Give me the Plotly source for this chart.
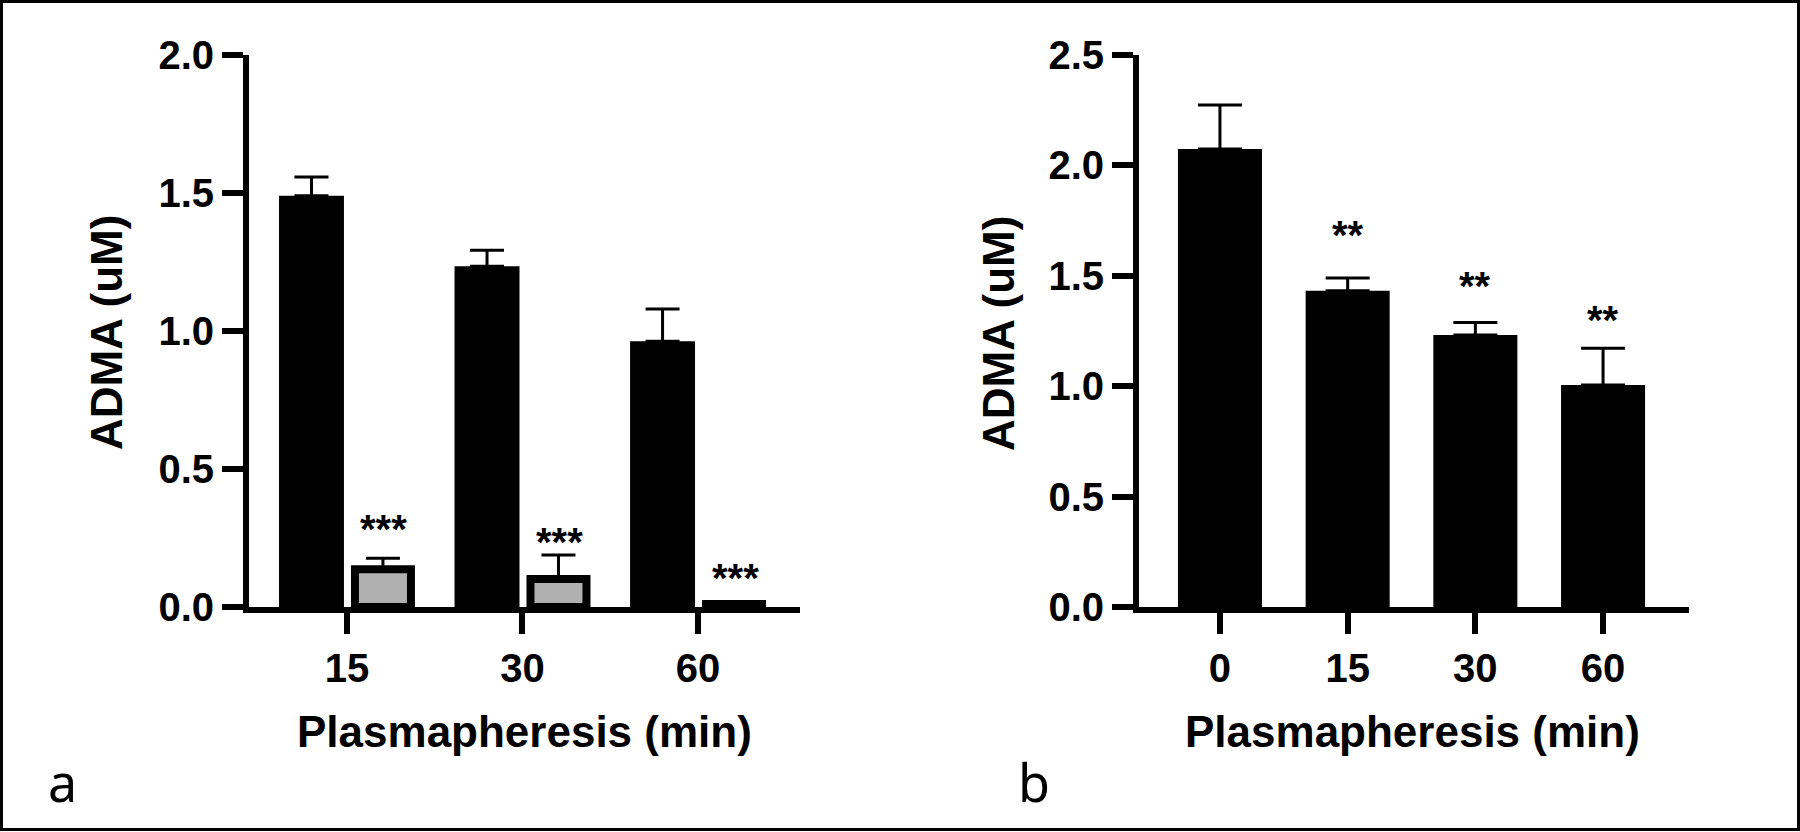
import plotly.graph_objects as go

W, H = 1800, 832

# ---------------- data ----------------
cats_a = ["15", "30", "60"]
control_a = [1.49, 1.235, 0.963]
control_a_err = [0.068, 0.058, 0.117]
treated_a = [0.137, 0.101, 0.011]
treated_a_err = [0.040, 0.087, 0.0]
sig_a = ["***", "***", "***"]
sig_a_y = [0.30, 0.255, 0.125]

cats_b = ["0", "15", "30", "60"]
vals_b = [2.074, 1.432, 1.232, 1.006]
err_b = [0.200, 0.058, 0.057, 0.166]
sig_b = ["", "**", "**", "**"]
sig_b_y = [None, 1.706, 1.476, 1.323]

yticks_a = [0.0, 0.5, 1.0, 1.5, 2.0]
yticks_b = [0.0, 0.5, 1.0, 1.5, 2.0, 2.5]

FONT = "Liberation Sans, Arial, sans-serif"


def px_x(p):
    return p / W


def px_y(p):
    return 1 - p / H


fig = go.Figure()

fig.add_trace(go.Bar(
    x=cats_a, y=control_a, xaxis="x", yaxis="y",
    marker=dict(color="black", line=dict(width=0)),
    offset=-0.387, width=0.370,
    error_y=dict(type="data", array=control_a_err, symmetric=False,
                 arrayminus=[0] * len(cats_a), color="black", thickness=3, width=17),
    showlegend=False,
))
fig.add_trace(go.Bar(
    x=cats_a, y=treated_a, xaxis="x", yaxis="y",
    marker=dict(color="#b0b0b0", line=dict(width=8, color="black")),
    offset=0.0456, width=0.319,
    error_y=dict(type="data", array=treated_a_err, symmetric=False,
                 arrayminus=[0] * len(cats_a), color="black", thickness=3, width=17),
    showlegend=False,
))
fig.add_trace(go.Bar(
    x=cats_b, y=vals_b, xaxis="x2", yaxis="y2",
    marker=dict(color="black", line=dict(width=0)),
    width=0.658,
    error_y=dict(type="data", array=err_b, symmetric=False,
                 arrayminus=[0] * len(cats_b), color="black", thickness=3, width=22),
    showlegend=False,
))

axis_common = dict(
    showline=True, linecolor="black", linewidth=6,
    ticks="outside", tickcolor="black", tickwidth=6, ticklen=21,
    showgrid=False, zeroline=False, automargin=False,
    tickfont=dict(family=FONT, size=40, color="black", weight="bold"),
)

fig.update_layout(
    template="none",
    width=W, height=H, autosize=False,
    margin=dict(l=0, r=0, t=0, b=0, pad=0),
    paper_bgcolor="white", plot_bgcolor="white",
    barmode="overlay", showlegend=False,
    xaxis=dict(domain=[px_x(249), px_x(800)], anchor="y", type="category",
               range=[-0.558, 2.581], **axis_common),
    yaxis=dict(domain=[px_y(607), px_y(55)], anchor="x", range=[0, 2.0],
               tickvals=yticks_a, tickformat=".1f", **axis_common),
    xaxis2=dict(domain=[px_x(1139), px_x(1689)], anchor="y2", type="category",
                range=[-0.634, 3.673], **axis_common),
    yaxis2=dict(domain=[px_y(607), px_y(55)], anchor="x2", range=[0, 2.5],
                tickvals=yticks_b, tickformat=".1f", **axis_common),
)

sig_font = dict(family=FONT, size=40, color="black", weight="bold")
ann = []
for i, (s, yv) in enumerate(zip(sig_a, sig_a_y)):
    ann.append(dict(x=i, y=yv, xref="x", yref="y", text=s, showarrow=False,
                    xshift=37, yshift=-5, yanchor="middle", font=sig_font))
for i, (s, yv) in enumerate(zip(sig_b, sig_b_y)):
    if s:
        ann.append(dict(x=i, y=yv, xref="x2", yref="y2", text=s, showarrow=False,
                        yshift=-5, yanchor="middle", font=sig_font))

title_font = dict(family=FONT, size=44, color="black", weight="bold")
letter_font = dict(family="Noto Sans, Open Sans, sans-serif", size=52, color="black")
ann += [
    dict(x=px_x(524), y=px_y(731), xref="paper", yref="paper", text="Plasmapheresis (min)",
         showarrow=False, xanchor="center", yanchor="middle", font=title_font),
    dict(x=px_x(1412), y=px_y(731), xref="paper", yref="paper", text="Plasmapheresis (min)",
         showarrow=False, xanchor="center", yanchor="middle", font=title_font),
    dict(x=px_x(106), y=px_y(333), xref="paper", yref="paper", text="ADMA (uM)",
         showarrow=False, textangle=-90, xanchor="center", yanchor="middle", font=title_font),
    dict(x=px_x(998), y=px_y(333), xref="paper", yref="paper", text="ADMA (uM)",
         showarrow=False, textangle=-90, xanchor="center", yanchor="middle", font=title_font),
    dict(x=px_x(62), y=px_y(781), xref="paper", yref="paper", text="a",
         showarrow=False, xanchor="center", yanchor="middle", font=letter_font),
    dict(x=px_x(1034), y=px_y(781), xref="paper", yref="paper", text="b",
         showarrow=False, xanchor="center", yanchor="middle", font=letter_font),
]
fig.update_layout(annotations=ann)

fig.add_shape(type="rect", xref="paper", yref="paper",
              x0=1.5 / W, x1=1 - 1.5 / W, y0=2.5 / H, y1=1 - 1.5 / H,
              line=dict(color="black", width=3), fillcolor="rgba(0,0,0,0)")

fig.write_html(
    "out.html",
    config={"displayModeBar": False},
    post_script="document.body.style.margin='0px';document.body.style.overflow='hidden';",
)
